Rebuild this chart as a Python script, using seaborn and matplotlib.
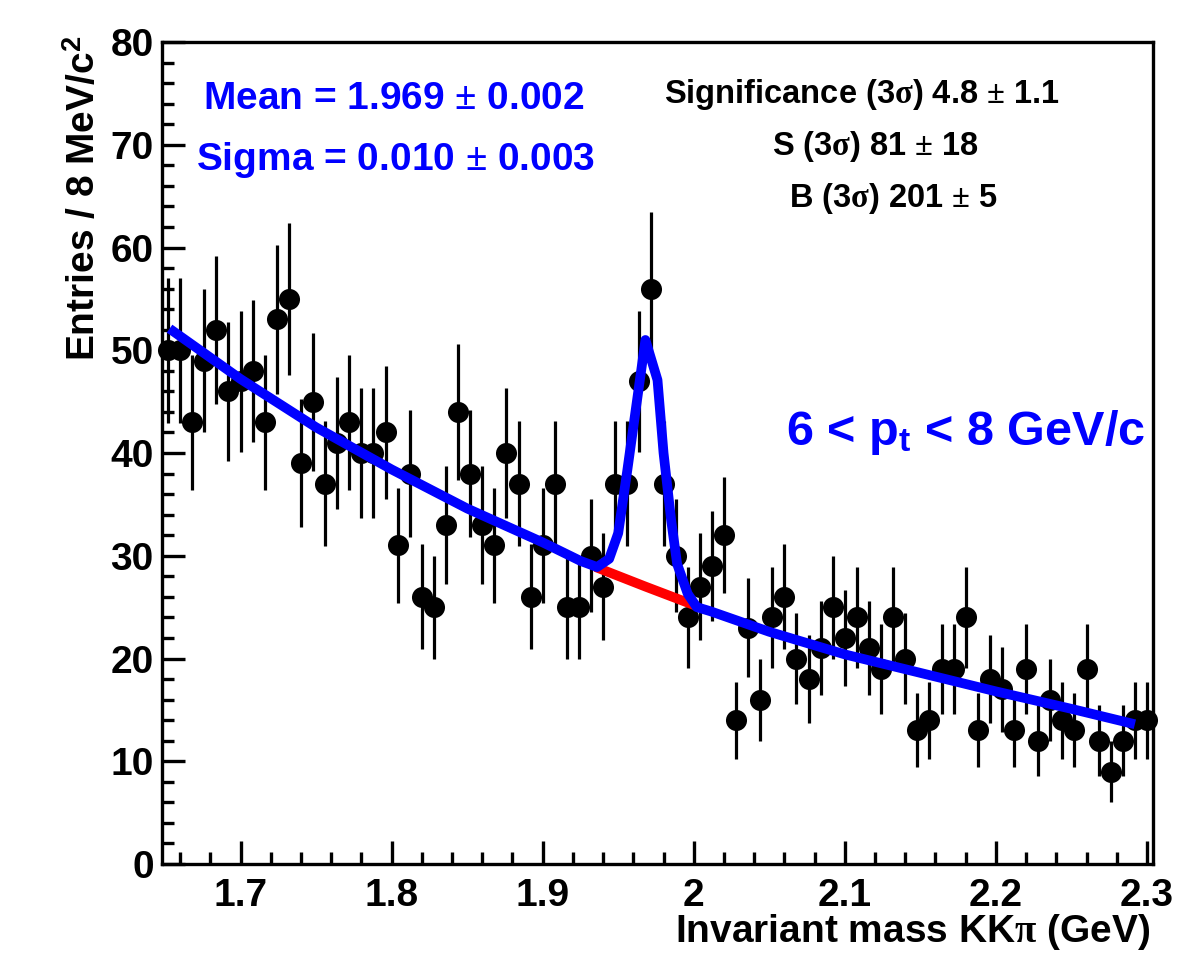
import numpy as np
import pandas as pd
import matplotlib
matplotlib.use("Agg")
import matplotlib.pyplot as plt
import seaborn as sns
from matplotlib.ticker import MultipleLocator

# ---------------- data ----------------
bin_low = 1.648
bin_width = 0.008
counts = [50, 50, 43, 49, 52, 46, 47, 48, 43, 53,
          55, 39, 45, 37, 41, 43, 40, 40, 42, 31,
          38, 26, 25, 33, 44, 38, 33, 31, 40, 37,
          26, 31, 37, 25, 25, 30, 27, 37, 37, 47,
          56, 37, 30, 24, 27, 29, 32, 14, 23, 16,
          24, 26, 20, 18, 21, 25, 22, 24, 21, 19,
          24, 20, 13, 14, 19, 19, 24, 13, 18, 17,
          13, 19, 12, 16, 14, 13, 19, 12, 9, 12,
          14, 14]

fit_x = [1.653, 1.700, 1.750, 1.800, 1.850, 1.900, 1.925, 1.936, 1.944, 1.950,
         1.956, 1.968, 1.976, 1.980, 1.985, 1.989, 1.996, 2.002, 2.011, 2.050,
         2.100, 2.150, 2.200, 2.250, 2.292]
fit_y = [52.1, 47.2, 42.5, 38.4, 34.6, 31.3, 29.5, 28.9, 29.7, 32.2,
         38.3, 51.0, 47.1, 40.0, 33.5, 29.2, 26.3, 25.0, 24.6, 22.6,
         20.4, 18.6, 16.8, 15.1, 13.6]

bkg_x = [1.935, 1.968, 2.002]
bkg_y = [28.9, 27.0, 25.1]

x_ticks = [1.7, 1.8, 1.9, 2.0, 2.1, 2.2, 2.3]
x_tick_labels = ["1.7", "1.8", "1.9", "2", "2.1", "2.2", "2.3"]
y_ticks = [0, 10, 20, 30, 40, 50, 60, 70, 80]

mean_text = r"Mean = 1.969 $\pm$ 0.002"
sigma_text = r"Sigma = 0.010 $\pm$ 0.003"
stat_lines = [r"Significance (3$\mathrm{\sigma}$) 4.8 $\pm$ 1.1",
              r"S (3$\mathrm{\sigma}$) 81 $\pm$ 18",
              r"B (3$\mathrm{\sigma}$) 201 $\pm$ 5"]
pt_text = r"6 < p$_{\mathbf{t}}$ < 8 GeV/c"
xlabel = r"Invariant mass KK$\mathrm{\pi}$ (GeV)"
ylabel = r"Entries / 8 MeV/c$^{\mathbf{2}}$"

n_bins = len(counts)
centers = bin_low + bin_width * (np.arange(n_bins) + 0.5)
df = pd.DataFrame({"mass": centers, "entries": counts})
df["err"] = np.sqrt(df["entries"])

# ---------------- style ----------------
sns.set_theme(style="ticks")
plt.rcParams["font.family"] = ["Liberation Sans", "DejaVu Sans"]
plt.rcParams["font.weight"] = "bold"
plt.rcParams["mathtext.fontset"] = "custom"
plt.rcParams["mathtext.rm"] = "Liberation Serif"
plt.rcParams["mathtext.it"] = "Liberation Serif:italic"
plt.rcParams["mathtext.bf"] = "Liberation Sans:bold"
for key in ["text.color", "axes.labelcolor", "xtick.color", "ytick.color",
            "axes.edgecolor"]:
    plt.rcParams[key] = "black"

W, H = 1188, 955
fig = plt.figure(figsize=(W / 100, H / 100), dpi=100)
ax = fig.add_axes([162 / W, 1 - 864 / H, (1153 - 162) / W, (864 - 42) / H])

ax.errorbar(df["mass"], df["entries"], yerr=df["err"], fmt="none",
            ecolor="black", elinewidth=2.3, capsize=0, zorder=2, clip_on=False)
sns.scatterplot(data=df, x="mass", y="entries", color="black", s=230,
                linewidth=0, ax=ax, zorder=2.5, clip_on=False, legend=False)
sns.lineplot(x=bkg_x, y=bkg_y, color="#ff0000", lw=7, ax=ax, zorder=3,
             estimator=None, sort=False, solid_capstyle="butt")
sns.lineplot(x=fit_x, y=fit_y, color="#0000ff", lw=7, ax=ax, zorder=4,
             estimator=None, sort=False, solid_capstyle="butt")

ax.set_xlim(bin_low, bin_low + n_bins * bin_width)
ax.set_ylim(0, 80)
ax.set_xticks(x_ticks)
ax.set_xticklabels(x_tick_labels)
ax.set_yticks(y_ticks)
ax.xaxis.set_minor_locator(MultipleLocator(0.02))
ax.yaxis.set_minor_locator(MultipleLocator(2))
ax.tick_params(axis="both", which="both", direction="in", top=False, right=False,
               width=2.4, color="black", labelcolor="black")
ax.tick_params(axis="both", which="major", length=16.5, labelsize=28)
ax.tick_params(axis="both", which="minor", length=8.5)
ax.tick_params(axis="x", which="major", pad=10)
ax.tick_params(axis="y", which="major", pad=6)
for lab in ax.get_xticklabels() + ax.get_yticklabels():
    lab.set_fontweight("bold")
for sp in ax.spines.values():
    sp.set_linewidth(2.4)
    sp.set_color("black")
    sp.set_visible(True)
ax.set_xlabel("")
ax.set_ylabel("")

fig.text(1150 / W, 1 - 932 / H, xlabel, ha="right", va="center",
         fontsize=28, fontweight="bold")
fig.text(84 / W, 1 - 36 / H, ylabel, ha="center", va="top", rotation=90,
         fontsize=28, fontweight="bold")

fig.text(394 / W, 1 - 99 / H, mean_text, ha="center", va="center",
         fontsize=28, fontweight="bold", color="#0000ff")
fig.text(396 / W, 1 - 160 / H, sigma_text, ha="center", va="center",
         fontsize=28, fontweight="bold", color="#0000ff")
for txt, cx, cy in zip(stat_lines, [862, 876, 894], [94, 146, 198]):
    fig.text(cx / W, 1 - cy / H, txt, ha="center", va="center",
             fontsize=23.5, fontweight="bold", color="black")
fig.text(1145 / W, 1 - 432 / H, pt_text, ha="right", va="center",
         fontsize=35, fontweight="bold", color="#0000ff")

fig.savefig("out.png", dpi=100, facecolor="white")
